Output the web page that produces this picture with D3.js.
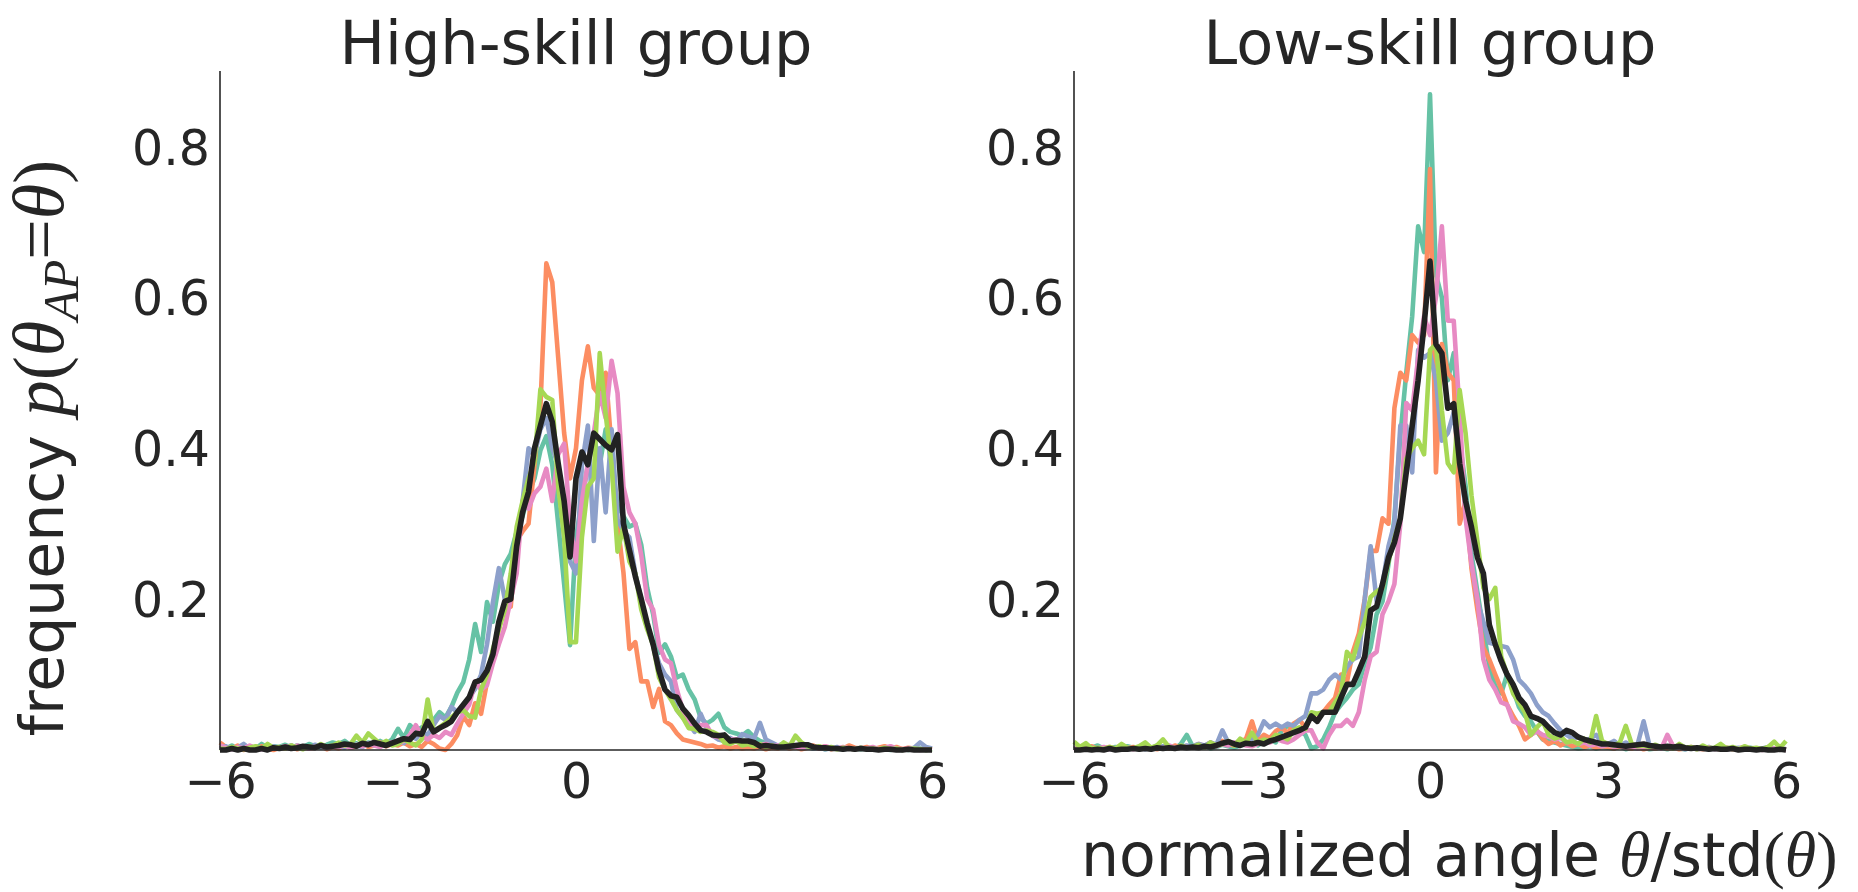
<!DOCTYPE html>
<html>
<head>
<meta charset="utf-8">
<script src="https://cdn.jsdelivr.net/npm/d3@7"></script>
<style>
  body { margin: 0; background: #ffffff; }
  svg { display: block; }
</style>
</head>
<body>
<svg id="chart" width="1858" height="892"></svg>
<script>
// Histogram grid: bin centres from -6 to 6 in steps of 0.1 (121 bins)
const binStart = -6;
const binStep = 0.1;

const panelTitles = ["High-skill group", "Low-skill group"];
const xTicks = [-6, -3, 0, 3, 6];
const yTicks = [0.2, 0.4, 0.6, 0.8];
const seriesColors = ["#66c2a5", "#fc8d62", "#8da0cb", "#e78ac3", "#a6d854"];
const meanColor = "#222222";

// ---- High-skill group: five individual subjects + group average ----
const highTeal = [
  0.004, 0.002, 0.006, 0.001, 0.003, 0.005, 0.002, 0.008, 0.003, 0.005,
  0.004, 0.007, 0.003, 0.006, 0.004, 0.008, 0.005, 0.003, 0.007, 0.010,
  0.008, 0.012, 0.006, 0.009, 0.005, 0.010, 0.007, 0.012, 0.008, 0.014,
  0.028, 0.016, 0.033, 0.025, 0.030, 0.033, 0.040, 0.050, 0.043, 0.057,
  0.076, 0.090, 0.120, 0.167, 0.130, 0.196, 0.170, 0.220, 0.246, 0.260,
  0.290, 0.310, 0.340, 0.360, 0.397, 0.416, 0.378, 0.300, 0.220, 0.139,
  0.282, 0.330, 0.378, 0.416, 0.378, 0.425, 0.378, 0.325, 0.310, 0.296,
  0.300, 0.272, 0.215, 0.180, 0.129, 0.140, 0.124, 0.096, 0.100, 0.080,
  0.067, 0.043, 0.035, 0.040, 0.048, 0.030, 0.024, 0.022, 0.019, 0.025,
  0.017, 0.012, 0.009, 0.006, 0.005, 0.008, 0.004, 0.006, 0.003, 0.005,
  0.002, 0.004, 0.001, 0.003, 0.002, 0.001, 0.003, 0.002, 0.001, 0.002,
  0.001, 0.002, 0.001, 0.000, 0.002, 0.001, 0.000, 0.001, 0.002, 0.000,
  0.001
];
const highOrange = [
  0.010, 0.004, 0.002, 0.006, 0.000, 0.004, 0.001, 0.005, 0.002, 0.000,
  0.003, 0.002, 0.006, 0.001, 0.004, 0.002, 0.003, 0.005, 0.001, 0.004,
  0.002, 0.006, 0.003, 0.005, 0.008, 0.004, 0.006, 0.010, 0.005, 0.008,
  0.006, 0.010, 0.005, 0.008, 0.004, 0.012, 0.008, 0.002, 0.000, 0.008,
  0.020, 0.045, 0.033, 0.062, 0.048, 0.090, 0.130, 0.160, 0.196, 0.190,
  0.277, 0.290, 0.300, 0.378, 0.454, 0.645, 0.620, 0.520, 0.420, 0.360,
  0.400, 0.490, 0.535, 0.480, 0.470, 0.500, 0.400, 0.300, 0.235, 0.134,
  0.143, 0.091, 0.091, 0.057, 0.081, 0.038, 0.033, 0.022, 0.014, 0.012,
  0.010, 0.008, 0.005, 0.006, 0.003, 0.005, 0.002, 0.004, 0.002, 0.003,
  0.002, 0.004, 0.001, 0.003, 0.002, 0.005, 0.002, 0.004, 0.001, 0.003,
  0.006, 0.002, 0.005, 0.001, 0.003, 0.002, 0.006, 0.003, 0.002, 0.004,
  0.001, 0.003, 0.005, 0.002, 0.004, 0.001, 0.003, 0.002, 0.001, 0.002,
  0.001
];
const highBlue = [
  0.002, 0.005, 0.001, 0.003, 0.008, 0.002, 0.004, 0.001, 0.003, 0.005,
  0.002, 0.004, 0.006, 0.003, 0.005, 0.002, 0.007, 0.004, 0.003, 0.006,
  0.005, 0.003, 0.008, 0.006, 0.004, 0.009, 0.006, 0.005, 0.008, 0.010,
  0.012, 0.009, 0.019, 0.015, 0.024, 0.020, 0.033, 0.045, 0.040, 0.057,
  0.050, 0.053, 0.070, 0.081, 0.100, 0.140, 0.196, 0.241, 0.200, 0.220,
  0.260, 0.330, 0.400, 0.390, 0.425, 0.440, 0.400, 0.378, 0.282, 0.250,
  0.234, 0.378, 0.430, 0.277, 0.400, 0.315, 0.425, 0.306, 0.290, 0.282,
  0.234, 0.200, 0.163, 0.140, 0.115, 0.100, 0.091, 0.053, 0.043, 0.035,
  0.024, 0.048, 0.030, 0.019, 0.014, 0.012, 0.016, 0.011, 0.021, 0.018,
  0.015, 0.036, 0.014, 0.010, 0.006, 0.008, 0.004, 0.005, 0.003, 0.004,
  0.002, 0.003, 0.001, 0.002, 0.004, 0.001, 0.002, 0.001, 0.003, 0.001,
  0.002, 0.001, 0.001, 0.002, 0.001, 0.000, 0.001, 0.003, 0.010, 0.004,
  0.002
];
const highPink = [
  0.006, 0.003, 0.001, 0.004, 0.002, 0.006, 0.002, 0.001, 0.004, 0.002,
  0.003, 0.005, 0.002, 0.006, 0.003, 0.002, 0.004, 0.006, 0.003, 0.005,
  0.004, 0.006, 0.003, 0.007, 0.005, 0.008, 0.006, 0.004, 0.008, 0.010,
  0.008, 0.012, 0.020, 0.033, 0.018, 0.014, 0.020, 0.016, 0.024, 0.020,
  0.035, 0.048, 0.060, 0.091, 0.080, 0.086, 0.115, 0.140, 0.163, 0.200,
  0.234, 0.330, 0.320, 0.340, 0.349, 0.373, 0.330, 0.392, 0.406, 0.300,
  0.250, 0.330, 0.380, 0.420, 0.473, 0.440, 0.516, 0.473, 0.349, 0.315,
  0.300, 0.258, 0.200, 0.186, 0.139, 0.120, 0.115, 0.080, 0.053, 0.040,
  0.029, 0.033, 0.033, 0.019, 0.017, 0.015, 0.014, 0.014, 0.012, 0.010,
  0.009, 0.007, 0.008, 0.005, 0.006, 0.004, 0.007, 0.005, 0.003, 0.006,
  0.004, 0.002, 0.005, 0.003, 0.002, 0.004, 0.002, 0.001, 0.003, 0.002,
  0.004, 0.001, 0.003, 0.005, 0.002, 0.001, 0.002, 0.001, 0.000, 0.001,
  0.000
];
const highGreen = [
  0.002, 0.001, 0.004, 0.002, 0.001, 0.003, 0.005, 0.002, 0.008, 0.003,
  0.004, 0.002, 0.006, 0.003, 0.001, 0.005, 0.003, 0.008, 0.004, 0.006,
  0.010, 0.006, 0.008, 0.019, 0.010, 0.022, 0.015, 0.008, 0.012, 0.006,
  0.008, 0.014, 0.010, 0.006, 0.014, 0.067, 0.024, 0.030, 0.036, 0.043,
  0.050, 0.053, 0.045, 0.043, 0.080, 0.100, 0.134, 0.160, 0.186, 0.234,
  0.296, 0.330, 0.360, 0.382, 0.478, 0.468, 0.464, 0.350, 0.282, 0.143,
  0.143, 0.282, 0.349, 0.360, 0.526, 0.445, 0.378, 0.263, 0.296, 0.250,
  0.234, 0.186, 0.160, 0.139, 0.096, 0.080, 0.067, 0.053, 0.043, 0.029,
  0.028, 0.024, 0.026, 0.024, 0.020, 0.010, 0.008, 0.012, 0.006, 0.008,
  0.005, 0.008, 0.004, 0.006, 0.003, 0.010, 0.005, 0.019, 0.010, 0.005,
  0.003, 0.005, 0.002, 0.004, 0.001, 0.003, 0.002, 0.001, 0.003, 0.001,
  0.002, 0.001, 0.003, 0.001, 0.002, 0.000, 0.001, 0.002, 0.001, 0.000,
  0.001
];
const highMean = [
  0.000, 0.000, 0.002, 0.000, 0.002, 0.000, 0.000, 0.002, 0.000, 0.003,
  0.002, 0.004, 0.002, 0.003, 0.005, 0.004, 0.003, 0.006, 0.004, 0.005,
  0.006, 0.008, 0.007, 0.005, 0.009, 0.007, 0.010, 0.008, 0.006, 0.009,
  0.012, 0.015, 0.014, 0.022, 0.021, 0.038, 0.024, 0.029, 0.033, 0.038,
  0.050, 0.060, 0.070, 0.090, 0.093, 0.105, 0.127, 0.170, 0.197, 0.200,
  0.270, 0.315, 0.342, 0.400, 0.430, 0.459, 0.435, 0.380, 0.330, 0.256,
  0.360, 0.395, 0.378, 0.420, 0.412, 0.404, 0.398, 0.418, 0.300, 0.265,
  0.230, 0.200, 0.168, 0.140, 0.105, 0.080, 0.072, 0.070, 0.055, 0.046,
  0.035, 0.026, 0.024, 0.020, 0.019, 0.020, 0.012, 0.013, 0.012, 0.012,
  0.010, 0.005, 0.006, 0.005, 0.004, 0.004, 0.005, 0.006, 0.007, 0.007,
  0.004, 0.003, 0.003, 0.002, 0.002, 0.001, 0.002, 0.001, 0.002, 0.001,
  0.001, 0.000, 0.001, 0.001, 0.000, 0.000, 0.001, 0.000, 0.000, 0.000,
  0.000
];

// ---- Low-skill group: five individual subjects + group average ----
const lowTeal = [
  0.002, 0.004, 0.001, 0.003, 0.006, 0.002, 0.001, 0.004, 0.002, 0.005,
  0.003, 0.001, 0.004, 0.002, 0.006, 0.003, 0.005, 0.002, 0.008, 0.020,
  0.005, 0.003, 0.006, 0.002, 0.004, 0.007, 0.005, 0.003, 0.006, 0.008,
  0.010, 0.006, 0.012, 0.014, 0.010, 0.026, 0.032, 0.029, 0.026, 0.020,
  0.002, 0.005, 0.014, 0.030, 0.050, 0.060, 0.069, 0.080, 0.087, 0.115,
  0.136, 0.180, 0.197, 0.246, 0.307, 0.416, 0.500, 0.575, 0.694, 0.660,
  0.869, 0.630, 0.600, 0.490, 0.526, 0.410, 0.350, 0.260, 0.209, 0.160,
  0.110, 0.085, 0.075, 0.100, 0.080, 0.057, 0.045, 0.038, 0.025, 0.014,
  0.012, 0.010, 0.008, 0.006, 0.004, 0.002, 0.003, 0.005, 0.002, 0.004,
  0.003, 0.002, 0.005, 0.001, 0.003, 0.002, 0.004, 0.001, 0.002, 0.003,
  0.001, 0.004, 0.002, 0.001, 0.003, 0.001, 0.002, 0.004, 0.001, 0.002,
  0.003, 0.001, 0.002, 0.001, 0.003, 0.001, 0.002, 0.000, 0.001, 0.002,
  0.001
];
const lowOrange = [
  0.001, 0.003, 0.002, 0.005, 0.001, 0.002, 0.004, 0.001, 0.003, 0.002,
  0.004, 0.002, 0.005, 0.003, 0.001, 0.004, 0.002, 0.006, 0.003, 0.005,
  0.004, 0.008, 0.005, 0.010, 0.006, 0.012, 0.008, 0.006, 0.010, 0.015,
  0.038, 0.012, 0.020, 0.016, 0.025, 0.030, 0.022, 0.035, 0.040, 0.030,
  0.045, 0.040, 0.050, 0.060, 0.069, 0.100, 0.090, 0.130, 0.154, 0.200,
  0.264, 0.264, 0.307, 0.300, 0.453, 0.500, 0.490, 0.550, 0.540, 0.550,
  0.770, 0.368, 0.538, 0.500, 0.490, 0.300, 0.330, 0.240, 0.185, 0.136,
  0.120, 0.100, 0.081, 0.060, 0.045, 0.032, 0.014, 0.020, 0.026, 0.015,
  0.008, 0.012, 0.006, 0.010, 0.005, 0.008, 0.004, 0.006, 0.003, 0.005,
  0.004, 0.002, 0.005, 0.003, 0.002, 0.004, 0.001, 0.003, 0.002, 0.004,
  0.002, 0.003, 0.001, 0.002, 0.004, 0.002, 0.001, 0.003, 0.002, 0.001,
  0.003, 0.001, 0.002, 0.004, 0.001, 0.002, 0.001, 0.003, 0.001, 0.002,
  0.001
];
const lowBlue = [
  0.001, 0.002, 0.001, 0.003, 0.001, 0.002, 0.001, 0.003, 0.002, 0.001,
  0.002, 0.004, 0.001, 0.003, 0.002, 0.005, 0.003, 0.002, 0.004, 0.006,
  0.005, 0.008, 0.006, 0.010, 0.007, 0.026, 0.010, 0.008, 0.012, 0.010,
  0.015, 0.020, 0.038, 0.030, 0.035, 0.030, 0.035, 0.032, 0.040, 0.045,
  0.075, 0.075, 0.080, 0.093, 0.100, 0.093, 0.110, 0.120, 0.124, 0.200,
  0.270, 0.197, 0.220, 0.270, 0.300, 0.430, 0.430, 0.368, 0.530, 0.520,
  0.526, 0.490, 0.410, 0.420, 0.447, 0.380, 0.320, 0.250, 0.197, 0.170,
  0.142, 0.140, 0.138, 0.136, 0.120, 0.093, 0.085, 0.075, 0.060, 0.050,
  0.045, 0.035, 0.026, 0.020, 0.015, 0.018, 0.012, 0.015, 0.020, 0.010,
  0.008, 0.012, 0.006, 0.010, 0.005, 0.008, 0.038, 0.006, 0.004, 0.003,
  0.005, 0.002, 0.004, 0.001, 0.003, 0.002, 0.004, 0.001, 0.002, 0.003,
  0.001, 0.002, 0.003, 0.001, 0.002, 0.001, 0.002, 0.004, 0.001, 0.002,
  0.001
];
const lowPink = [
  0.002, 0.001, 0.003, 0.001, 0.002, 0.004, 0.001, 0.002, 0.001, 0.003,
  0.001, 0.003, 0.005, 0.002, 0.004, 0.002, 0.006, 0.003, 0.005, 0.004,
  0.003, 0.006, 0.004, 0.007, 0.005, 0.008, 0.006, 0.010, 0.008, 0.006,
  0.005, 0.008, 0.012, 0.010, 0.015, 0.012, 0.010, 0.014, 0.020, 0.026,
  0.026, 0.010, 0.002, 0.020, 0.032, 0.032, 0.040, 0.032, 0.050, 0.093,
  0.124, 0.130, 0.180, 0.197, 0.220, 0.300, 0.460, 0.450, 0.520, 0.575,
  0.550, 0.600, 0.694, 0.569, 0.569, 0.447, 0.307, 0.246, 0.200, 0.120,
  0.093, 0.080, 0.063, 0.060, 0.038, 0.035, 0.030, 0.020, 0.025, 0.020,
  0.018, 0.014, 0.016, 0.010, 0.012, 0.008, 0.010, 0.006, 0.008, 0.005,
  0.007, 0.004, 0.006, 0.003, 0.005, 0.002, 0.004, 0.003, 0.005, 0.002,
  0.020, 0.005, 0.004, 0.002, 0.003, 0.001, 0.002, 0.003, 0.001, 0.002,
  0.001, 0.002, 0.001, 0.003, 0.001, 0.002, 0.000, 0.001, 0.002, 0.001,
  0.000
];
const lowGreen = [
  0.011, 0.004, 0.009, 0.002, 0.003, 0.001, 0.004, 0.002, 0.008, 0.003,
  0.002, 0.005, 0.010, 0.003, 0.006, 0.014, 0.004, 0.002, 0.006, 0.003,
  0.004, 0.007, 0.003, 0.010, 0.006, 0.008, 0.012, 0.006, 0.015, 0.010,
  0.023, 0.010, 0.014, 0.012, 0.020, 0.018, 0.014, 0.026, 0.030, 0.028,
  0.050, 0.048, 0.050, 0.050, 0.063, 0.075, 0.130, 0.120, 0.148, 0.170,
  0.203, 0.210, 0.215, 0.250, 0.280, 0.307, 0.386, 0.400, 0.410, 0.392,
  0.530, 0.538, 0.450, 0.380, 0.368, 0.477, 0.420, 0.337, 0.276, 0.215,
  0.200, 0.215, 0.124, 0.100, 0.075, 0.063, 0.050, 0.020, 0.030, 0.038,
  0.020, 0.015, 0.018, 0.010, 0.012, 0.008, 0.015, 0.010, 0.045, 0.012,
  0.008, 0.006, 0.010, 0.032, 0.008, 0.005, 0.006, 0.004, 0.007, 0.003,
  0.005, 0.002, 0.008, 0.003, 0.004, 0.001, 0.006, 0.002, 0.003, 0.008,
  0.002, 0.004, 0.001, 0.005, 0.002, 0.003, 0.001, 0.004, 0.011, 0.003,
  0.012
];
const lowMean = [
  0.000, 0.000, 0.001, 0.000, 0.001, 0.000, 0.002, 0.000, 0.001, 0.001,
  0.002, 0.001, 0.002, 0.001, 0.003, 0.002, 0.003, 0.002, 0.004, 0.003,
  0.004, 0.003, 0.005, 0.004, 0.006, 0.009, 0.011, 0.008, 0.006, 0.009,
  0.008, 0.010, 0.008, 0.012, 0.014, 0.017, 0.020, 0.023, 0.026, 0.030,
  0.045, 0.038, 0.050, 0.050, 0.050, 0.069, 0.087, 0.087, 0.105, 0.124,
  0.185, 0.190, 0.220, 0.255, 0.275, 0.307, 0.368, 0.430, 0.490, 0.563,
  0.648, 0.538, 0.526, 0.453, 0.459, 0.380, 0.330, 0.295, 0.255, 0.234,
  0.166, 0.140, 0.118, 0.100, 0.087, 0.069, 0.060, 0.045, 0.042, 0.038,
  0.030, 0.023, 0.020, 0.026, 0.023, 0.017, 0.014, 0.012, 0.010, 0.008,
  0.008, 0.007, 0.006, 0.005, 0.006, 0.007, 0.008, 0.006, 0.005, 0.004,
  0.005, 0.004, 0.005, 0.003, 0.002, 0.003, 0.002, 0.001, 0.002, 0.001,
  0.001, 0.002, 0.000, 0.001, 0.001, 0.000, 0.001, 0.000, 0.000, 0.001,
  0.000
];

const panels = [
  { title: panelTitles[0], subjects: [highTeal, highOrange, highBlue, highPink, highGreen], mean: highMean, left: 220, right: 932 },
  { title: panelTitles[1], subjects: [lowTeal, lowOrange, lowBlue, lowPink, lowGreen], mean: lowMean, left: 1074, right: 1786 }
];

const plotTop = 71;
const plotBottom = 750;
const textColor = "#262626";
const sansFont = "'DejaVu Sans', Verdana, sans-serif";
const mathFont = "'Liberation Serif', 'DejaVu Serif', serif";

const svg = d3.select("#chart");

panels.forEach(p => {
  const x = d3.scaleLinear().domain([-6, 6]).range([p.left, p.right]);
  const y = d3.scaleLinear().domain([0, 0.9]).range([plotBottom, plotTop]);
  const g = svg.append("g");

  const line = d3.line()
    .x((d, i) => x(binStart + i * binStep))
    .y(d => y(d));

  // individual subjects
  p.subjects.forEach((vals, k) => {
    g.append("path")
      .datum(vals)
      .attr("d", line)
      .attr("fill", "none")
      .attr("stroke", seriesColors[k])
      .attr("stroke-width", 4.6)
      .attr("stroke-linejoin", "round");
  });

  // group average on top
  g.append("path")
    .datum(p.mean)
    .attr("d", line)
    .attr("fill", "none")
    .attr("stroke", meanColor)
    .attr("stroke-width", 5.6)
    .attr("stroke-linejoin", "round");

  // left and bottom spines only, no tick marks
  const xAxis = d3.axisBottom(x).tickValues(xTicks).tickSize(0).tickPadding(12)
    .tickFormat(d => d3.format("d")(d).replace("-", "\u2212"));
  const yAxis = d3.axisLeft(y).tickValues(yTicks).tickSize(0).tickPadding(10)
    .tickFormat(d3.format(".1f"));

  const gx = g.append("g").attr("transform", `translate(0,${plotBottom})`).call(xAxis);
  const gy = g.append("g").attr("transform", `translate(${p.left},0)`).call(yAxis);

  gx.select(".domain").attr("d", `M${p.left},0H${p.right}`).attr("stroke", textColor).attr("stroke-width", 1.6);
  gy.select(".domain").attr("d", `M0,${plotBottom}V${plotTop}`).attr("stroke", textColor).attr("stroke-width", 1.6);

  gx.selectAll("text")
    .attr("font-family", sansFont).attr("font-size", 49).attr("fill", textColor)
    .attr("dy", null).attr("y", 48);
  gy.selectAll("text")
    .attr("font-family", sansFont).attr("font-size", 49).attr("fill", textColor)
    .attr("dy", "0.36em");

  // panel title
  g.append("text")
    .attr("x", (p.left + p.right) / 2)
    .attr("y", 64)
    .attr("text-anchor", "middle")
    .attr("font-family", sansFont)
    .attr("font-size", 60.5)
    .attr("fill", textColor)
    .text(p.title);
});

// y-axis label: frequency p(θ_AP = θ)
const yl = svg.append("text")
  .attr("transform", "translate(63,448) rotate(-90)")
  .attr("text-anchor", "middle")
  .attr("fill", textColor)
  .attr("font-family", sansFont)
  .attr("font-size", 60);
yl.append("tspan").text("frequency ");
yl.append("tspan").attr("font-family", mathFont).attr("font-style", "italic").attr("font-size", 72).text("p");
yl.append("tspan").attr("font-family", mathFont).attr("font-size", 72).text("(");
yl.append("tspan").attr("font-family", mathFont).attr("font-style", "italic").attr("font-size", 72).text("θ");
yl.append("tspan").attr("font-family", mathFont).attr("font-style", "italic").attr("font-size", 50).attr("dy", 15).text("AP");
yl.append("tspan").attr("font-family", mathFont).attr("font-size", 72).attr("dy", -15).text("=");
yl.append("tspan").attr("font-family", mathFont).attr("font-style", "italic").attr("font-size", 72).text("θ");
yl.append("tspan").attr("font-family", mathFont).attr("font-size", 72).text(")");

// x-axis label under the right panel: normalized angle θ/std(θ)
const xl = svg.append("text")
  .attr("x", 1081)
  .attr("y", 876)
  .attr("fill", textColor)
  .attr("font-family", sansFont)
  .attr("font-size", 60);
xl.append("tspan").text("normalized angle ");
xl.append("tspan").attr("font-family", mathFont).attr("font-style", "italic").attr("font-size", 64).text("θ");
xl.append("tspan").text("/std");
xl.append("tspan").attr("font-family", mathFont).attr("font-size", 64).text("(");
xl.append("tspan").attr("font-family", mathFont).attr("font-style", "italic").attr("font-size", 64).text("θ");
xl.append("tspan").attr("font-family", mathFont).attr("font-size", 64).text(")");
</script>
</body>
</html>
